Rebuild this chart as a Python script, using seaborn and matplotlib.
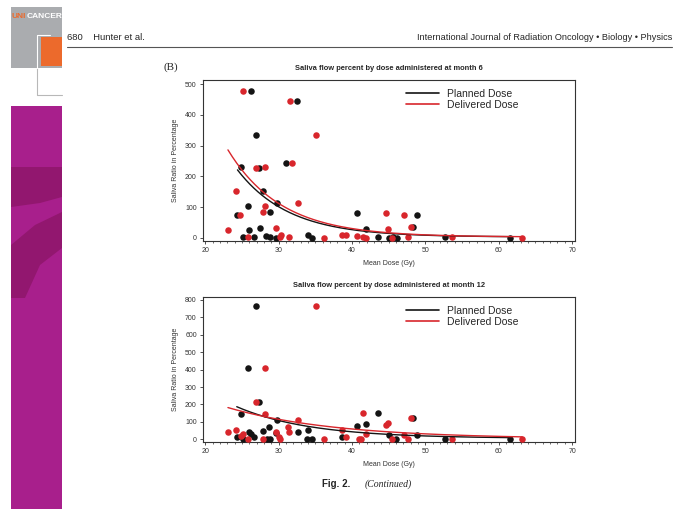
import numpy as np
import matplotlib
matplotlib.use("Agg")
import matplotlib.pyplot as plt
from matplotlib.patches import Rectangle, Polygon
from matplotlib.lines import Line2D
import seaborn as sns

# month 6, planned dose (black)
m6_planned_dose = [26.3, 32.5, 26.9, 31.0, 24.9, 27.3, 27.9, 29.8, 25.8, 28.8, 24.4, 40.7, 48.8, 27.5, 41.9,
                   26.0, 25.2, 26.7, 28.3, 28.8, 29.6, 34.0, 34.5, 43.5, 45.0, 45.6, 46.1, 52.7, 61.6, 48.3]
m6_planned_ratio = [477, 445, 334, 242, 229, 226, 153, 114, 105, 83, 75, 82, 76, 33, 30,
                    25, 2, 3, 5, 2, 1, 10, 1, 4, 1, 2, 1, 2, 1, 37]
# month 6, delivered dose (red)
m6_deliv_dose = [25.1, 31.5, 35.1, 31.8, 28.1, 26.9, 24.2, 32.7, 28.2, 27.9, 24.7, 44.6, 47.1, 29.6, 44.9, 23.1,
                 25.8, 30.2, 31.4, 36.2, 38.6, 39.2, 40.7, 41.5, 41.9, 45.4, 47.7, 53.7, 63.2, 48.0, 30.3]
m6_deliv_ratio = [477, 445, 334, 242, 229, 226, 153, 114, 105, 83, 75, 82, 76, 33, 30, 25,
                  2, 3, 3, 1, 10, 10, 6, 4, 1, 1, 2, 2, 1, 37, 8]

# month 12
m12_planned_dose = [26.9, 25.8, 27.4, 29.8, 24.9, 43.5, 41.9, 40.7, 28.7, 27.9, 34.0, 29.7, 32.6, 26.0, 26.3,
                    24.3, 26.7, 25.2, 28.4, 28.8, 33.9, 34.6, 38.7, 45.0, 46.0, 48.8, 52.7, 61.6, 48.3]
m12_planned_ratio = [765, 411, 212, 111, 144, 149, 90, 76, 71, 50, 51, 38, 40, 44, 31,
                     13, 13, 1, 1, 1, 1, 1, 13, 24, 3, 25, 4, 1, 124]
m12_deliv_dose = [35.1, 28.2, 26.9, 28.1, 41.5, 32.7, 44.6, 44.9, 48.0, 23.1, 24.2, 24.9, 25.1, 25.8, 27.9, 29.6,
                  30.0, 30.2, 31.3, 31.4, 36.2, 38.7, 39.2, 40.9, 41.2, 41.9, 45.4, 47.1, 47.7, 53.7, 63.2]
m12_deliv_ratio = [766, 411, 212, 144, 149, 111, 80, 92, 124, 44, 51, 21, 30, 3, 1, 40,
                   15, 1, 71, 40, 1, 51, 13, 1, 1, 29, 3, 25, 1, 4, 1]

# exponential fit parameters (value at lowest dose, decay rate, asymptote)
fit_m6 = {"planned": (218, 0.142, 3), "delivered": (283, 0.138, 3)}
fit_m12 = {"planned": (182, 0.100, 5), "delivered": (180, 0.068, 2)}

BLACK = "#141414"
RED = "#d8262c"
MAGENTA = "#a81f8c"

W, H = 689, 517
fig = plt.figure(figsize=(W / 100, H / 100), dpi=100)
sns.set_style("white")
plt.rcParams["font.family"] = ["Liberation Sans", "DejaVu Sans"]

# page decorations, in pixel coordinates
bg = fig.add_axes([0, 0, 1, 1], zorder=-5)
bg.set_xlim(0, W)
bg.set_ylim(H, 0)
bg.axis("off")
bg.add_patch(Rectangle((11, 7), 51, 61, color="#aaacaf", lw=0))
bg.add_patch(Rectangle((41, 37), 21, 29, color="#ec6a2c", lw=0))
bg.plot([37, 37, 62], [68, 95, 95], color="#b8b8b8", lw=0.8)
bg.plot([37, 37, 50], [68, 35, 35], color="white", lw=0.8)
uni = bg.text(11.5, 17, "UNI", color="#ec6a2c", fontsize=6.0, fontweight="bold", va="center")
fig.canvas.draw()
ext = uni.get_window_extent()
bg.text(ext.x1 + 0.3, 17, "CANCER", color="white", fontsize=6.0, fontweight="bold", va="center")
bg.add_patch(Rectangle((11, 106), 51, 403, color=MAGENTA, lw=0))
bg.add_patch(Polygon([[11, 167], [62, 167], [62, 197], [40, 203], [11, 207]], color="#92176f", lw=0))
bg.add_patch(Polygon([[11, 245], [35, 225], [62, 212], [62, 248], [40, 265], [25, 298], [11, 298]],
                     color="#92176f", lw=0))
bg.text(67, 37, "680    Hunter et al.", fontsize=6.8, va="center")
bg.text(672, 37, "International Journal of Radiation Oncology \u2022 Biology \u2022 Physics", fontsize=6.6,
        va="center", ha="right")
bg.plot([67, 672], [47, 47], color="#555555", lw=0.8)
bg.text(163, 67, "(B)", fontsize=8, va="center", family=["Liberation Serif", "DejaVu Serif"])
bg.text(322, 484, "Fig. 2.", fontsize=7, fontweight="bold", va="center")
bg.text(365, 484, "(Continued)", fontsize=7, style="italic", va="center",
        family=["Liberation Serif", "DejaVu Serif"])


def panel(rect, planned_x, planned_y, deliv_x, deliv_y, fits, title, ylim, yticks):
    ax = fig.add_axes(rect)
    sns.scatterplot(x=planned_x, y=planned_y, ax=ax, color=BLACK, s=22, linewidth=0, zorder=3)
    sns.scatterplot(x=deliv_x, y=deliv_y, ax=ax, color=RED, s=22, linewidth=0, zorder=3)
    for xs, key, col in [(planned_x, "planned", BLACK), (deliv_x, "delivered", RED)]:
        a, b, c = fits[key]
        xx = np.linspace(min(xs), max(xs), 200)
        ax.plot(xx, c + a * np.exp(-b * (xx - min(xs))), color=col, lw=1.0, zorder=4)
    ax.set_xlim(19.7, 70.4)
    ax.set_ylim(*ylim)
    ax.set_xticks([20, 30, 40, 50, 60, 70])
    ax.set_xticks(np.arange(20, 71, 1), minor=True)
    ax.set_yticks(yticks)
    ax.tick_params(axis="both", which="major", labelsize=5, length=2.5, width=0.6, pad=2,
                   colors="#333333", bottom=True, left=True)
    ax.tick_params(axis="x", which="minor", length=1.5, width=0.5, bottom=True, colors="#333333")
    for sp in ax.spines.values():
        sp.set_color("#333333")
        sp.set_linewidth(0.8)
    ax.set_xlabel("Mean Dose (Gy)", fontsize=5, labelpad=4, color="#333333")
    ax.set_ylabel("Saliva Ratio in Percentage", fontsize=5, labelpad=4, color="#333333")
    ax.set_title(title, fontsize=5.4, fontweight="bold", pad=7)
    handles = [Line2D([0], [0], color=BLACK, lw=1.2), Line2D([0], [0], color=RED, lw=1.2)]
    ax.legend(handles, ["Planned Dose", "Delivered Dose"], loc="upper right", fontsize=7.5,
              frameon=False, handlelength=3.2, handletextpad=0.8, labelspacing=0.1,
              bbox_to_anchor=(0.86, 0.97), borderaxespad=0)
    return ax


panel([203 / W, 1 - 241 / H, 372 / W, 161 / H], m6_planned_dose, m6_planned_ratio,
      m6_deliv_dose, m6_deliv_ratio, fit_m6, "Saliva flow percent by dose administered at month 6",
      (-10, 513), [0, 100, 200, 300, 400, 500])
panel([203 / W, 1 - 441.7 / H, 372 / W, 144.7 / H], m12_planned_dose, m12_planned_ratio,
      m12_deliv_dose, m12_deliv_ratio, fit_m12, "Saliva flow percent by dose administered at month 12",
      (-14, 817), [0, 100, 200, 300, 400, 500, 600, 700, 800])

fig.savefig("out.png", dpi=100)
